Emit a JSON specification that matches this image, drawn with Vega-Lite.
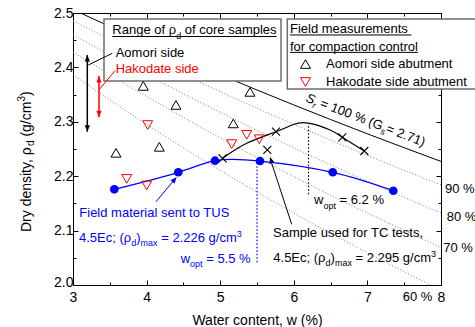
{
 "$schema": "https://vega.github.io/schema/vega-lite/v6.json",
 "width": 368, "height": 272,
 "autosize": "none",
 "padding": {"left": 73, "top": 13, "right": 34, "bottom": 42},
 "config": {
  "font": "Liberation Sans",
  "view": {"stroke": null},
  "axis": {"domainColor": "black", "tickColor": "black", "labelColor": "black", "titleColor": "black", "grid": false, "labelFont": "Liberation Sans", "titleFont": "Liberation Sans", "labelFontSize": 14, "titleFontSize": 14, "titleFontWeight": "normal", "labelOverlap": false, "labelFlush": false, "labelBound": false}
 },
 "datasets": {
  "sat": [
   {"w": 3, "rho": 2.5062, "Sr": 100}, {"w": 4, "rho": 2.445, "Sr": 100}, {"w": 5, "rho": 2.3866, "Sr": 100}, {"w": 6, "rho": 2.331, "Sr": 100}, {"w": 7, "rho": 2.2779, "Sr": 100}, {"w": 8, "rho": 2.2272, "Sr": 100},
   {"w": 3, "rho": 2.4855, "Sr": 90}, {"w": 4, "rho": 2.4187, "Sr": 90}, {"w": 5, "rho": 2.3554, "Sr": 90}, {"w": 6, "rho": 2.2953, "Sr": 90}, {"w": 7, "rho": 2.2382, "Sr": 90}, {"w": 8, "rho": 2.1839, "Sr": 90},
   {"w": 3, "rho": 2.46, "Sr": 80}, {"w": 4, "rho": 2.3866, "Sr": 80}, {"w": 5, "rho": 2.3174, "Sr": 80}, {"w": 6, "rho": 2.2522, "Sr": 80}, {"w": 7, "rho": 2.1906, "Sr": 80}, {"w": 8, "rho": 2.1322, "Sr": 80},
   {"w": 3, "rho": 2.428, "Sr": 70}, {"w": 4, "rho": 2.3466, "Sr": 70}, {"w": 5, "rho": 2.2705, "Sr": 70}, {"w": 6, "rho": 2.1992, "Sr": 70}, {"w": 7, "rho": 2.1322, "Sr": 70}, {"w": 8, "rho": 2.0691, "Sr": 70},
   {"w": 3, "rho": 2.3866, "Sr": 60}, {"w": 4, "rho": 2.2953, "Sr": 60}, {"w": 5, "rho": 2.2107, "Sr": 60}, {"w": 6, "rho": 2.1322, "Sr": 60}, {"w": 7, "rho": 2.059, "Sr": 60}, {"w": 7.86, "rho": 2.0, "Sr": 60}
  ],
  "field": [
   {"w": 3.955, "rho": 2.366, "site": "Aomori side abutment"},
   {"w": 4.399, "rho": 2.331, "site": "Aomori side abutment"},
   {"w": 3.584, "rho": 2.243, "site": "Aomori side abutment"},
   {"w": 4.173, "rho": 2.254, "site": "Aomori side abutment"},
   {"w": 5.178, "rho": 2.297, "site": "Aomori side abutment"},
   {"w": 5.405, "rho": 2.355, "site": "Aomori side abutment"},
   {"w": 4.015, "rho": 2.294, "site": "Hakodate side abutment"},
   {"w": 5.156, "rho": 2.259, "site": "Hakodate side abutment"},
   {"w": 5.36, "rho": 2.276, "site": "Hakodate side abutment"},
   {"w": 5.531, "rho": 2.268, "site": "Hakodate side abutment"},
   {"w": 3.73, "rho": 2.195, "site": "Hakodate side abutment"},
   {"w": 4.001, "rho": 2.183, "site": "Hakodate side abutment"}
  ],
  "tus": [
   {"w": 3.561, "rho": 2.1759}, {"w": 4.431, "rho": 2.2072}, {"w": 4.929, "rho": 2.2285},
   {"w": 5.541, "rho": 2.2279}, {"w": 6.529, "rho": 2.2072}, {"w": 7.352, "rho": 2.1733}
  ],
  "tc_curve": [
   {"w": 5.033, "rho": 2.2329}, {"w": 5.36, "rho": 2.2605}, {"w": 5.758, "rho": 2.2818}, {"w": 5.993, "rho": 2.295},
   {"w": 6.2, "rho": 2.2975}, {"w": 6.492, "rho": 2.2849}, {"w": 6.659, "rho": 2.2715}, {"w": 6.958, "rho": 2.2463}
  ],
  "tc_points": [
   {"w": 5.033, "rho": 2.2329}, {"w": 5.64, "rho": 2.2482}, {"w": 5.758, "rho": 2.2818}, {"w": 6.659, "rho": 2.2715}, {"w": 6.958, "rho": 2.2463}
  ],
  "boxes": [
   {"w1": 3.4212, "w2": 5.8261, "top": 2.489, "bottom": 2.375},
   {"w1": 5.9117, "w2": 8.6, "top": 2.489, "bottom": 2.3603}
  ],
  "underlines": [
   {"w1": 3.534, "w2": 5.7663, "rho": 2.4568},
   {"w1": 5.9484, "w2": 7.5978, "rho": 2.4596},
   {"w1": 5.9484, "w2": 7.6861, "rho": 2.4276}
  ],
  "ranges": [
   {"grp": "Aomori side", "w": 3.1943, "lo": 2.2818, "hi": 2.4228},
   {"grp": "Hakodate side", "w": 3.3533, "lo": 2.3083, "hi": 2.3842}
  ],
  "segments": [
   {"grp": "Aomori side", "w1": 3.534, "rho1": 2.4259, "w2": 3.2079, "rho2": 2.4044},
   {"grp": "Hakodate side", "w1": 3.5707, "rho1": 2.3939, "w2": 3.3573, "rho2": 2.3594},
   {"grp": "TUS", "w1": 4.1277, "rho1": 2.1531, "w2": 4.395, "rho2": 2.1963},
   {"grp": "TC", "w1": 5.9715, "rho1": 2.1116, "w2": 5.68, "rho2": 2.232}
  ],
  "tips": [
   {"grp": "TUS", "w": 4.409, "rho": 2.1985},
   {"grp": "TC", "w": 5.6766, "rho": 2.2353}
  ],
  "wopt": [
   {"grp": "TUS", "w": 5.5, "lo": 2.042, "hi": 2.226},
   {"grp": "TC", "w": 6.2, "lo": 2.1667, "hi": 2.296}
  ],
  "texts": [
   {"kind": "main", "grp": "other", "text": "Range of ρ", "w": 3.534, "rho": 2.4605},
   {"kind": "main", "grp": "other", "text": "of core samples", "w": 4.519, "rho": 2.4605},
   {"kind": "main", "grp": "Aomori side", "text": "Aomori side", "w": 3.5802, "rho": 2.4197},
   {"kind": "main", "grp": "Hakodate side", "text": "Hakodate side", "w": 3.5802, "rho": 2.3892},
   {"kind": "main", "grp": "other", "text": "Field measurements", "w": 5.9484, "rho": 2.4627},
   {"kind": "main", "grp": "other", "text": "for compaction control", "w": 5.9484, "rho": 2.4307},
   {"kind": "main", "grp": "TUS", "text": "Field material sent to TUS", "w": 3.0856, "rho": 2.1244},
   {"kind": "main", "grp": "TUS", "text": "4.5Ec; (ρ", "w": 3.0815, "rho": 2.079},
   {"kind": "main", "grp": "TUS", "text": ")", "w": 3.8601, "rho": 2.079},
   {"kind": "main", "grp": "TUS", "text": "= 2.226 g/cm", "w": 4.1984, "rho": 2.079},
   {"kind": "main", "grp": "TUS", "text": "w", "w": 4.4633, "rho": 2.041},
   {"kind": "main", "grp": "TUS", "text": "= 5.5 %", "w": 4.8098, "rho": 2.041},
   {"kind": "main", "grp": "TC", "text": "w", "w": 6.2745, "rho": 2.148},
   {"kind": "main", "grp": "TC", "text": "= 6.2 %", "w": 6.6209, "rho": 2.148},
   {"kind": "main", "grp": "TC", "text": "Sample used for TC tests,", "w": 5.7174, "rho": 2.0882},
   {"kind": "main", "grp": "TC", "text": "4.5Ec; (ρ", "w": 5.7215, "rho": 2.0423},
   {"kind": "main", "grp": "TC", "text": ")", "w": 6.5, "rho": 2.0423},
   {"kind": "main", "grp": "TC", "text": "= 2.295 g/cm", "w": 6.8383, "rho": 2.0423},
   {"kind": "main", "grp": "other", "text": "90 %", "w": 8.0543, "rho": 2.1691},
   {"kind": "main", "grp": "other", "text": "80 %", "w": 8.0774, "rho": 2.1182},
   {"kind": "main", "grp": "other", "text": "70 %", "w": 8.0312, "rho": 2.0607},
   {"kind": "main", "grp": "other", "text": "60 %", "w": 7.4796, "rho": 1.9699},
   {"kind": "sub", "grp": "other", "text": "d", "w": 4.4022, "rho": 2.4531},
   {"kind": "sub", "grp": "TUS", "text": "d", "w": 3.7921, "rho": 2.0717},
   {"kind": "sub", "grp": "TUS", "text": "max", "w": 3.9185, "rho": 2.0717},
   {"kind": "sub", "grp": "TUS", "text": "3", "w": 5.2242, "rho": 2.0882},
   {"kind": "sub", "grp": "TUS", "text": "opt", "w": 4.591, "rho": 2.0336},
   {"kind": "sub", "grp": "TC", "text": "opt", "w": 6.4022, "rho": 2.1406},
   {"kind": "sub", "grp": "TC", "text": "d", "w": 6.4321, "rho": 2.0349},
   {"kind": "sub", "grp": "TC", "text": "max", "w": 6.5584, "rho": 2.0349},
   {"kind": "sub", "grp": "TC", "text": "3", "w": 7.8641, "rho": 2.0515},
   {"kind": "sr-main-it", "grp": "other", "text": "S", "w": 6.1522, "rho": 2.3379},
   {"kind": "sr-sub-it", "grp": "other", "text": "r", "w": 6.2452, "rho": 2.3261},
   {"kind": "sr-main", "grp": "other", "text": "= 100 % (G", "w": 6.3465, "rho": 2.3278},
   {"kind": "sr-sub", "grp": "other", "text": "s", "w": 7.1685, "rho": 2.2783},
   {"kind": "sr-main", "grp": "other", "text": "= 2.71)", "w": 7.2418, "rho": 2.2813},
   {"kind": "yt-main", "grp": "other", "text": "Dry density, ρ", "w": 2.4226, "rho": 2.0974},
   {"kind": "yt-sub", "grp": "other", "text": "d", "w": 2.4701, "rho": 2.2553},
   {"kind": "yt-main", "grp": "other", "text": "(g/cm", "w": 2.4226, "rho": 2.2728},
   {"kind": "yt-sub", "grp": "other", "text": "3", "w": 2.3478, "rho": 2.3371},
   {"kind": "yt-main", "grp": "other", "text": ")", "w": 2.4226, "rho": 2.3474}
  ]
 },
 "resolve": {"axis": {"x": "independent", "y": "independent"}},
 "layer": [
  {
   "data": {"name": "sat"},
   "transform": [{"filter": "datum.Sr < 100"}],
   "mark": {"type": "line", "clip": true, "interpolate": "monotone", "color": "#808080", "strokeWidth": 1, "strokeDash": [1, 2]},
   "encoding": {
    "x": {"field": "w", "type": "quantitative", "scale": {"domain": [3, 8], "nice": false, "zero": false},
     "axis": {"orient": "bottom", "values": [3, 3.5, 4, 4.5, 5, 5.5, 6, 6.5, 7, 7.5, 8], "labelExpr": "datum.value % 1 === 0 ? format(datum.value, 'd') : ''", "tickSize": {"condition": {"test": "datum.value % 1 !== 0", "value": -3}, "value": -5}, "labelPadding": 10, "title": "Water content, w (%)", "titlePadding": 7}},
    "y": {"field": "rho", "type": "quantitative", "scale": {"domain": [2, 2.5], "nice": false, "zero": false},
     "axis": {"orient": "left", "values": [2, 2.05, 2.1, 2.15, 2.2, 2.25, 2.3, 2.35, 2.4, 2.45, 2.5], "labelExpr": "abs(datum.value * 10 - round(datum.value * 10)) < 0.001 ? format(datum.value, '.1f') : ''", "tickSize": {"condition": {"test": "abs(datum.value * 10 - round(datum.value * 10)) > 0.001", "value": -3}, "value": -5}, "labelOffset": {"condition": {"test": "datum.value < 2.01", "value": -3}, "value": 0}, "labelPadding": 5, "title": null}},
    "detail": {"field": "Sr", "type": "nominal"}
   }
  },
  {
   "data": {"name": "sat"},
   "transform": [{"filter": "datum.Sr === 100"}],
   "mark": {"type": "line", "clip": true, "interpolate": "monotone", "color": "black", "strokeWidth": 1},
   "encoding": {
    "x": {"field": "w", "type": "quantitative",
     "axis": {"orient": "top", "values": [3, 3.5, 4, 4.5, 5, 5.5, 6, 6.5, 7, 7.5, 8], "labels": false, "tickSize": {"condition": {"test": "datum.value % 1 !== 0", "value": -3}, "value": -5}, "title": null}},
    "y": {"field": "rho", "type": "quantitative",
     "axis": {"orient": "right", "values": [2, 2.05, 2.1, 2.15, 2.2, 2.25, 2.3, 2.35, 2.4, 2.45, 2.5], "labels": false, "tickSize": {"condition": {"test": "abs(datum.value * 10 - round(datum.value * 10)) > 0.001", "value": -3}, "value": -5}, "title": null}}
   }
  },
  {
   "data": {"name": "boxes"},
   "mark": {"type": "rect", "fill": "white", "stroke": "#6e6e6e", "strokeWidth": 1.5},
   "encoding": {
    "x": {"field": "w1", "type": "quantitative", "axis": null}, "x2": {"field": "w2"},
    "y": {"field": "top", "type": "quantitative", "axis": null}, "y2": {"field": "bottom"}
   }
  },
  {
   "data": {"name": "underlines"},
   "mark": {"type": "rule", "color": "black", "strokeWidth": 1},
   "encoding": {
    "x": {"field": "w1", "type": "quantitative", "axis": null}, "x2": {"field": "w2"},
    "y": {"field": "rho", "type": "quantitative", "axis": null}
   }
  },
  {
   "data": {"name": "ranges"},
   "mark": {"type": "rule", "strokeWidth": 1.5},
   "encoding": {
    "x": {"field": "w", "type": "quantitative", "axis": null},
    "y": {"field": "lo", "type": "quantitative", "axis": null}, "y2": {"field": "hi"},
    "color": {"field": "grp", "type": "nominal", "scale": {"domain": ["Aomori side", "Hakodate side", "TUS", "TC", "other"], "range": ["black", "#ff0000", "#0000ff", "black", "black"]}, "legend": null}
   }
  },
  {
   "data": {"name": "ranges"},
   "mark": {"type": "point", "filled": true, "shape": "M0,0L0.8,2L-0.8,2Z", "size": 42, "strokeWidth": 0, "opacity": 1},
   "encoding": {
    "x": {"field": "w", "type": "quantitative", "axis": null},
    "y": {"field": "hi", "type": "quantitative", "axis": null},
    "color": {"field": "grp", "type": "nominal", "scale": {"domain": ["Aomori side", "Hakodate side", "TUS", "TC", "other"], "range": ["black", "#ff0000", "#0000ff", "black", "black"]}, "legend": null}
   }
  },
  {
   "data": {"name": "ranges"},
   "mark": {"type": "point", "filled": true, "shape": "M0,0L0.8,-2L-0.8,-2Z", "size": 42, "strokeWidth": 0, "opacity": 1},
   "encoding": {
    "x": {"field": "w", "type": "quantitative", "axis": null},
    "y": {"field": "lo", "type": "quantitative", "axis": null},
    "color": {"field": "grp", "type": "nominal", "scale": {"domain": ["Aomori side", "Hakodate side", "TUS", "TC", "other"], "range": ["black", "#ff0000", "#0000ff", "black", "black"]}, "legend": null}
   }
  },
  {
   "data": {"name": "segments"},
   "mark": {"type": "rule", "strokeWidth": 1},
   "encoding": {
    "x": {"field": "w1", "type": "quantitative", "axis": null}, "x2": {"field": "w2"},
    "y": {"field": "rho1", "type": "quantitative", "axis": null}, "y2": {"field": "rho2"},
    "color": {"field": "grp", "type": "nominal", "scale": {"domain": ["Aomori side", "Hakodate side", "TUS", "TC", "other"], "range": ["black", "#ff0000", "#0000ff", "black", "black"]}, "legend": null}
   }
  },
  {
   "data": {"name": "tips"},
   "transform": [{"filter": "datum.grp === 'TUS'"}],
   "mark": {"type": "point", "filled": true, "shape": "M0,0L0.8,2L-0.8,2Z", "size": 42, "strokeWidth": 0, "opacity": 1, "angle": 40, "color": "#0000ff"},
   "encoding": {
    "x": {"field": "w", "type": "quantitative", "axis": null},
    "y": {"field": "rho", "type": "quantitative", "axis": null}
   }
  },
  {
   "data": {"name": "tips"},
   "transform": [{"filter": "datum.grp === 'TC'"}],
   "mark": {"type": "point", "filled": true, "shape": "M0,0L0.8,2L-0.8,2Z", "size": 42, "strokeWidth": 0, "opacity": 1, "angle": -18, "color": "black"},
   "encoding": {
    "x": {"field": "w", "type": "quantitative", "axis": null},
    "y": {"field": "rho", "type": "quantitative", "axis": null}
   }
  },
  {
   "data": {"name": "wopt"},
   "mark": {"type": "rule", "strokeWidth": 1.2, "strokeDash": [1.5, 2]},
   "encoding": {
    "x": {"field": "w", "type": "quantitative", "axis": null},
    "y": {"field": "lo", "type": "quantitative", "axis": null}, "y2": {"field": "hi"},
    "color": {"field": "grp", "type": "nominal", "scale": {"domain": ["Aomori side", "Hakodate side", "TUS", "TC", "other"], "range": ["black", "#ff0000", "#0000ff", "black", "black"]}, "legend": null}
   }
  },
  {
   "data": {"name": "tus"},
   "mark": {"type": "line", "interpolate": "natural", "color": "#0000ff", "strokeWidth": 1.3},
   "encoding": {
    "x": {"field": "w", "type": "quantitative", "axis": null},
    "y": {"field": "rho", "type": "quantitative", "axis": null}
   }
  },
  {
   "data": {"name": "tc_curve"},
   "mark": {"type": "line", "interpolate": "natural", "color": "black", "strokeWidth": 1.2},
   "encoding": {
    "x": {"field": "w", "type": "quantitative", "axis": null},
    "y": {"field": "rho", "type": "quantitative", "axis": null}
   }
  },
  {
   "data": {"name": "tus"},
   "mark": {"type": "point", "shape": "circle", "filled": true, "size": 75, "color": "#0000ff", "opacity": 1},
   "encoding": {
    "x": {"field": "w", "type": "quantitative", "axis": null},
    "y": {"field": "rho", "type": "quantitative", "axis": null}
   }
  },
  {
   "data": {"name": "tc_points"},
   "mark": {"type": "point", "shape": "M-1,-1L1,1M-1,1L1,-1", "filled": false, "size": 64, "color": "black", "strokeWidth": 1.1, "opacity": 1},
   "encoding": {
    "x": {"field": "w", "type": "quantitative", "axis": null},
    "y": {"field": "rho", "type": "quantitative", "axis": null}
   }
  },
  {
   "data": {"name": "field"},
   "mark": {"type": "point", "filled": false, "size": 100, "strokeWidth": 1, "opacity": 1},
   "encoding": {
    "x": {"field": "w", "type": "quantitative", "axis": null},
    "y": {"field": "rho", "type": "quantitative", "axis": null},
    "shape": {"field": "site", "type": "nominal", "scale": {"domain": ["Aomori side abutment", "Hakodate side abutment"], "range": ["triangle-up", "triangle-down"]},
     "legend": {"title": null, "orient": "none", "legendX": 226, "legendY": 44.5, "labelFontSize": 13, "labelFont": "Liberation Sans", "labelColor": "black", "symbolSize": 100, "symbolStrokeWidth": 1, "labelOffset": 14, "rowPadding": 4, "padding": 0}},
    "stroke": {"field": "site", "type": "nominal", "scale": {"domain": ["Aomori side abutment", "Hakodate side abutment"], "range": ["black", "#ff0000"]},
     "legend": {"title": null, "orient": "none", "legendX": 226, "legendY": 44.5, "labelFontSize": 13, "labelFont": "Liberation Sans", "labelColor": "black", "symbolSize": 100, "symbolStrokeWidth": 1, "labelOffset": 14, "rowPadding": 4, "padding": 0}}
   }
  },
  {
   "data": {"name": "texts"},
   "transform": [{"filter": "datum.kind === 'main'"}],
   "mark": {"type": "text", "align": "left", "baseline": "alphabetic", "fontSize": 13},
   "encoding": {
    "x": {"field": "w", "type": "quantitative", "axis": null},
    "y": {"field": "rho", "type": "quantitative", "axis": null},
    "text": {"field": "text"},
    "color": {"field": "grp", "type": "nominal", "scale": {"domain": ["Aomori side", "Hakodate side", "TUS", "TC", "other"], "range": ["black", "#ff0000", "#0000ff", "black", "black"]}, "legend": null}
   }
  },
  {
   "data": {"name": "texts"},
   "transform": [{"filter": "datum.kind === 'sub'"}],
   "mark": {"type": "text", "align": "left", "baseline": "alphabetic", "fontSize": 9},
   "encoding": {
    "x": {"field": "w", "type": "quantitative", "axis": null},
    "y": {"field": "rho", "type": "quantitative", "axis": null},
    "text": {"field": "text"},
    "color": {"field": "grp", "type": "nominal", "scale": {"domain": ["Aomori side", "Hakodate side", "TUS", "TC", "other"], "range": ["black", "#ff0000", "#0000ff", "black", "black"]}, "legend": null}
   }
  },
  {
   "data": {"name": "texts"},
   "transform": [{"filter": "datum.kind === 'sr-main-it'"}],
   "mark": {"type": "text", "align": "left", "baseline": "alphabetic", "fontSize": 13, "fontStyle": "italic", "angle": 21, "color": "black"},
   "encoding": {
    "x": {"field": "w", "type": "quantitative", "axis": null},
    "y": {"field": "rho", "type": "quantitative", "axis": null},
    "text": {"field": "text"}
   }
  },
  {
   "data": {"name": "texts"},
   "transform": [{"filter": "datum.kind === 'sr-sub-it'"}],
   "mark": {"type": "text", "align": "left", "baseline": "alphabetic", "fontSize": 9, "fontStyle": "italic", "angle": 21, "color": "black"},
   "encoding": {
    "x": {"field": "w", "type": "quantitative", "axis": null},
    "y": {"field": "rho", "type": "quantitative", "axis": null},
    "text": {"field": "text"}
   }
  },
  {
   "data": {"name": "texts"},
   "transform": [{"filter": "datum.kind === 'sr-main'"}],
   "mark": {"type": "text", "align": "left", "baseline": "alphabetic", "fontSize": 13, "angle": 21, "color": "black"},
   "encoding": {
    "x": {"field": "w", "type": "quantitative", "axis": null},
    "y": {"field": "rho", "type": "quantitative", "axis": null},
    "text": {"field": "text"}
   }
  },
  {
   "data": {"name": "texts"},
   "transform": [{"filter": "datum.kind === 'sr-sub'"}],
   "mark": {"type": "text", "align": "left", "baseline": "alphabetic", "fontSize": 9, "angle": 21, "color": "black"},
   "encoding": {
    "x": {"field": "w", "type": "quantitative", "axis": null},
    "y": {"field": "rho", "type": "quantitative", "axis": null},
    "text": {"field": "text"}
   }
  },
  {
   "data": {"name": "texts"},
   "transform": [{"filter": "datum.kind === 'yt-main'"}],
   "mark": {"type": "text", "align": "left", "baseline": "alphabetic", "fontSize": 14, "angle": -90, "color": "black"},
   "encoding": {
    "x": {"field": "w", "type": "quantitative", "axis": null},
    "y": {"field": "rho", "type": "quantitative", "axis": null},
    "text": {"field": "text"}
   }
  },
  {
   "data": {"name": "texts"},
   "transform": [{"filter": "datum.kind === 'yt-sub'"}],
   "mark": {"type": "text", "align": "left", "baseline": "alphabetic", "fontSize": 10, "angle": -90, "color": "black"},
   "encoding": {
    "x": {"field": "w", "type": "quantitative", "axis": null},
    "y": {"field": "rho", "type": "quantitative", "axis": null},
    "text": {"field": "text"}
   }
  }
 ]
}
